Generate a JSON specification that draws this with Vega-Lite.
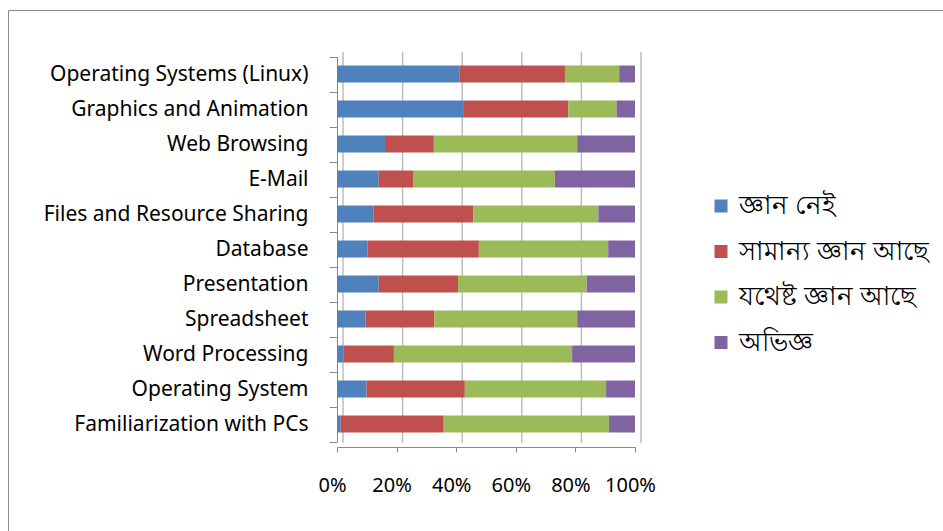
{
  "$schema": "https://vega.github.io/schema/vega-lite/v6.json",
  "width": 935,
  "height": 521,
  "autosize": {"type": "none"},
  "padding": {"left": 8, "top": 10, "right": 0, "bottom": 0},
  "background": "white",
  "config": {"view": {"stroke": "#8a8a8a", "strokeWidth": 1, "strokeDash": [935, 1456, 521]}, "font": "Noto Sans"},
  "layer": [
    {
      "data": {"values": [{"g": 0}, {"g": 0.2}, {"g": 0.4}, {"g": 0.6}, {"g": 0.8}, {"g": 1}]},
      "mark": {"type": "rule", "color": "#bcbcbc", "strokeWidth": 1.5, "xOffset": 6, "yOffset": -22, "y2Offset": 19},
      "encoding": {
        "x": {"field": "g", "type": "quantitative"},
        "y": {"datum": "Operating Systems (Linux)", "type": "nominal"},
        "y2": {"datum": "Familiarization with PCs"}
      }
    },
    {
      "data": {"values": [
        {"c": "Operating Systems (Linux)", "k": "\u00a0জ্ঞান নেই", "o": 1, "v": 41.2},
        {"c": "Operating Systems (Linux)", "k": "সামান্য জ্ঞান আছে", "o": 2, "v": 35.3},
        {"c": "Operating Systems (Linux)", "k": "যথেষ্ট জ্ঞান আছে", "o": 3, "v": 18.2},
        {"c": "Operating Systems (Linux)", "k": "অভিজ্ঞ", "o": 4, "v": 5.3},
        {"c": "Graphics and Animation", "k": "\u00a0জ্ঞান নেই", "o": 1, "v": 42.6},
        {"c": "Graphics and Animation", "k": "সামান্য জ্ঞান আছে", "o": 2, "v": 35.0},
        {"c": "Graphics and Animation", "k": "যথেষ্ট জ্ঞান আছে", "o": 3, "v": 16.2},
        {"c": "Graphics and Animation", "k": "অভিজ্ঞ", "o": 4, "v": 6.2},
        {"c": "Web Browsing", "k": "\u00a0জ্ঞান নেই", "o": 1, "v": 16.1},
        {"c": "Web Browsing", "k": "সামান্য জ্ঞান আছে", "o": 2, "v": 16.4},
        {"c": "Web Browsing", "k": "যথেষ্ট জ্ঞান আছে", "o": 3, "v": 48.1},
        {"c": "Web Browsing", "k": "অভিজ্ঞ", "o": 4, "v": 19.4},
        {"c": "E-Mail", "k": "\u00a0জ্ঞান নেই", "o": 1, "v": 14.0},
        {"c": "E-Mail", "k": "সামান্য জ্ঞান আছে", "o": 2, "v": 11.5},
        {"c": "E-Mail", "k": "যথেষ্ট জ্ঞান আছে", "o": 3, "v": 47.6},
        {"c": "E-Mail", "k": "অভিজ্ঞ", "o": 4, "v": 26.9},
        {"c": "Files and Resource Sharing", "k": "\u00a0জ্ঞান নেই", "o": 1, "v": 12.3},
        {"c": "Files and Resource Sharing", "k": "সামান্য জ্ঞান আছে", "o": 2, "v": 33.4},
        {"c": "Files and Resource Sharing", "k": "যথেষ্ট জ্ঞান আছে", "o": 3, "v": 42.0},
        {"c": "Files and Resource Sharing", "k": "অভিজ্ঞ", "o": 4, "v": 12.3},
        {"c": "Database", "k": "\u00a0জ্ঞান নেই", "o": 1, "v": 10.2},
        {"c": "Database", "k": "সামান্য জ্ঞান আছে", "o": 2, "v": 37.4},
        {"c": "Database", "k": "যথেষ্ট জ্ঞান আছে", "o": 3, "v": 43.4},
        {"c": "Database", "k": "অভিজ্ঞ", "o": 4, "v": 9.0},
        {"c": "Presentation", "k": "\u00a0জ্ঞান নেই", "o": 1, "v": 14.0},
        {"c": "Presentation", "k": "সামান্য জ্ঞান আছে", "o": 2, "v": 26.6},
        {"c": "Presentation", "k": "যথেষ্ট জ্ঞান আছে", "o": 3, "v": 43.2},
        {"c": "Presentation", "k": "অভিজ্ঞ", "o": 4, "v": 16.2},
        {"c": "Spreadsheet", "k": "\u00a0জ্ঞান নেই", "o": 1, "v": 9.6},
        {"c": "Spreadsheet", "k": "সামান্য জ্ঞান আছে", "o": 2, "v": 23.1},
        {"c": "Spreadsheet", "k": "যথেষ্ট জ্ঞান আছে", "o": 3, "v": 47.9},
        {"c": "Spreadsheet", "k": "অভিজ্ঞ", "o": 4, "v": 19.4},
        {"c": "Word Processing", "k": "\u00a0জ্ঞান নেই", "o": 1, "v": 2.2},
        {"c": "Word Processing", "k": "সামান্য জ্ঞান আছে", "o": 2, "v": 16.9},
        {"c": "Word Processing", "k": "যথেষ্ট জ্ঞান আছে", "o": 3, "v": 59.8},
        {"c": "Word Processing", "k": "অভিজ্ঞ", "o": 4, "v": 21.1},
        {"c": "Operating System", "k": "\u00a0জ্ঞান নেই", "o": 1, "v": 9.9},
        {"c": "Operating System", "k": "সামান্য জ্ঞান আছে", "o": 2, "v": 33.0},
        {"c": "Operating System", "k": "যথেষ্ট জ্ঞান আছে", "o": 3, "v": 47.4},
        {"c": "Operating System", "k": "অভিজ্ঞ", "o": 4, "v": 9.7},
        {"c": "Familiarization with PCs", "k": "\u00a0জ্ঞান নেই", "o": 1, "v": 1.2},
        {"c": "Familiarization with PCs", "k": "সামান্য জ্ঞান আছে", "o": 2, "v": 34.6},
        {"c": "Familiarization with PCs", "k": "যথেষ্ট জ্ঞান আছে", "o": 3, "v": 55.5},
        {"c": "Familiarization with PCs", "k": "অভিজ্ঞ", "o": 4, "v": 8.7}
      ]},
      "mark": {"type": "bar", "height": 17},
      "encoding": {
        "x": {
          "field": "v", "type": "quantitative", "stack": "normalize",
          "scale": {"domain": [0, 1], "range": [329, 627]},
          "axis": {
            "title": null, "orient": "bottom", "offset": -84, "grid": false,
            "values": [0, 0.2, 0.4, 0.6, 0.8, 1], "format": ".0%",
            "labelOverlap": false, "labelFlush": false, "labelBound": false,
            "domain": true, "domainColor": "#8a8a8a", "ticks": true, "tickColor": "#8a8a8a", "tickSize": 5,
            "labelFont": "Noto Sans", "labelFontSize": 20, "labelColor": "#000000", "labelPadding": 23, "labelOffset": -5
          }
        },
        "y": {
          "field": "c", "type": "nominal",
          "scale": {
            "domain": ["Operating Systems (Linux)", "Graphics and Animation", "Web Browsing", "E-Mail", "Files and Resource Sharing", "Database", "Presentation", "Spreadsheet", "Word Processing", "Operating System", "Familiarization with PCs"],
            "range": [46.5, 431.5], "paddingInner": 0, "paddingOuter": 0
          },
          "axis": {
            "title": null, "orient": "left", "offset": -329,
            "domain": true, "domainColor": "#8a8a8a", "ticks": true, "tickColor": "#8a8a8a", "tickSize": 8, "tickBand": "extent",
            "labelFont": "Noto Sans", "labelFontSize": 21, "labelColor": "#000000", "labelPadding": 21, "labelLimit": 400
          }
        },
        "order": {"field": "o", "type": "quantitative"},
        "color": {
          "field": "k", "type": "nominal",
          "sort": ["\u00a0জ্ঞান নেই", "সামান্য জ্ঞান আছে", "যথেষ্ট জ্ঞান আছে", "অভিজ্ঞ"],
          "scale": {
            "domain": ["\u00a0জ্ঞান নেই", "সামান্য জ্ঞান আছে", "যথেষ্ট জ্ঞান আছে", "অভিজ্ঞ"],
            "range": ["#4F81BD", "#C0504D", "#9BBB59", "#8064A2"]
          },
          "legend": {
            "title": null, "orient": "none", "legendX": 700, "legendY": 183, "padding": 0,
            "symbolType": "square", "symbolSize": 169, "symbolStrokeWidth": 0,
            "labelFontSize": 26, "labelColor": "#000000", "labelOffset": 5, "rowPadding": 19.5, "labelLimit": 300
          }
        }
      }
    }
  ]
}
